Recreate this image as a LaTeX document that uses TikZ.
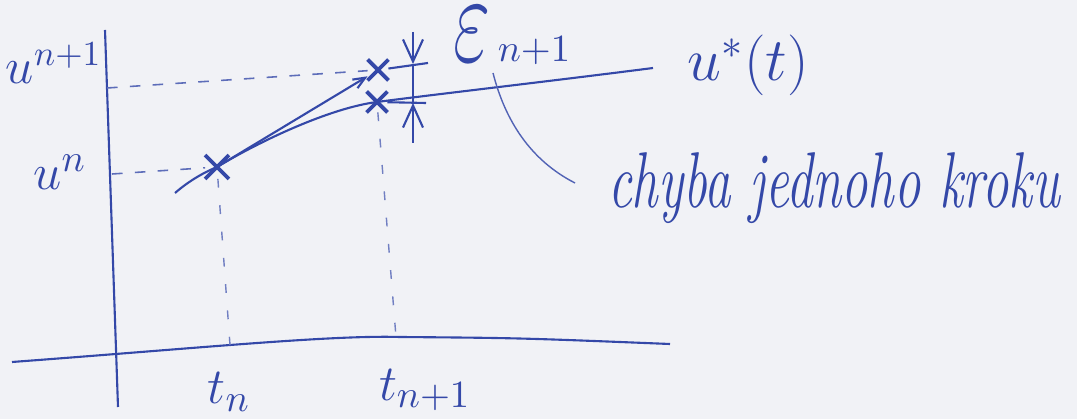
\documentclass[tikz,border=0pt]{standalone}
\usetikzlibrary{arrows.meta,shapes.misc}
\definecolor{ink}{RGB}{52,72,168}
\definecolor{paper}{RGB}{241,242,246}
\begin{document}
\begin{tikzpicture}[x=0.01cm,y=-0.01cm,
  inkline/.style={draw=ink,line width=0.6pt},
  xmark/.style={cross out,draw=ink,line width=1.1pt,minimum size=0.17cm,inner sep=0pt},
  lbl/.style={text=ink,inner sep=0pt,font=\fontsize{15}{18}\selectfont},
  guide/.style={draw=ink!80,line width=0.45pt,dash pattern=on 3pt off 3.5pt},
  vguide/.style={draw=ink!70,line width=0.4pt,dash pattern=on 2.5pt off 5pt},
  barb/.style={-{Straight Barb[length=0.22cm,width=0.2cm]}}
]
\fill[paper] (0,0) rectangle (1077,419);
\useasboundingbox (0,0) rectangle (1077,419);

% axes
\coordinate (ytop) at (105,30);
\coordinate (ybot) at (118,407);
\coordinate (xl) at (12,362);
\coordinate (xr) at (670,344);
\draw[inkline] (ytop) -- (ybot);
\draw[inkline] (xl) .. controls (200,348) and (330,335) .. (400,337) .. controls (520,338) .. (xr);

% crosses
\node[xmark,minimum size=0.2cm] (c1) at (217,167) {};
\node[xmark] (c2) at (378,70) {};
\node[xmark] (c3) at (377,102) {};

% exact solution u*(t)
\coordinate (s0) at (175,193);
\coordinate (s1) at (653,68);
\draw[inkline] (s0) .. controls (190,180) and (205,172) .. (c1.center)
  .. controls (260,141) and (330,108) .. (c3.center)
  .. controls (430,95) and (560,80) .. (s1);

% one step (tangent)
\draw[inkline,-{Straight Barb[length=0.12cm,width=0.1cm]}] (c1.center) -- (c2);

% dashed guides
\coordinate (t1) at (107,88);
\coordinate (t0) at (112,174);
\draw[guide] (t1) -- (c2);
\draw[guide] (t0) -- (c1);
\coordinate (b1) at (230,345);
\coordinate (b2) at (396,337);
\draw[vguide] (c1) -- (b1);
\draw[vguide] (c3) -- (b2);

% epsilon marker
\coordinate (h2) at (428,63);
\coordinate (h3) at (426,103);
\draw[inkline] (c2) -- (h2);
\draw[inkline] (c3) -- (h3);
\coordinate (e0) at (413,32);
\coordinate (et) at (413,64);
\coordinate (ebt) at (413,103);
\coordinate (eb) at (413,143);
\draw[inkline,barb] (e0) -- (et);
\draw[inkline] (et) -- (ebt);
\draw[inkline,barb] (eb) -- (ebt);

% labels
\node[lbl,font=\fontsize{14}{17}\selectfont] (lu1) at (54,63) {$u^{n+1}$};
\node[lbl] (lu0) at (60,172) {$u^{n}$};
\node[lbl] (ltn) at (229,392) {$t_{n}$};
\node[lbl] (ltn1) at (425,390) {$t_{n+1}$};
\node[lbl,anchor=base west] (leps) at (453,62) {\scalebox{1.6}[2.5]{$\varepsilon$}\kern2pt{\fontsize{11}{13}\selectfont$n{+}1$}};
\node[lbl,font=\fontsize{17}{20}\selectfont] (lust) at (748,65) {$u^{*}(t)$};
\node[lbl,font=\fontsize{15}{18}\selectfont\itshape] (err) at (834,188) {\scalebox{1}[1.5]{chyba jednoho kroku}};

% pointer
\coordinate (p1) at (493,73);
\coordinate (p2) at (575,183);
\draw[draw=ink!85,line width=0.4pt] (p1) .. controls (505,120) and (530,160) .. (p2);
\end{tikzpicture}
\end{document}
